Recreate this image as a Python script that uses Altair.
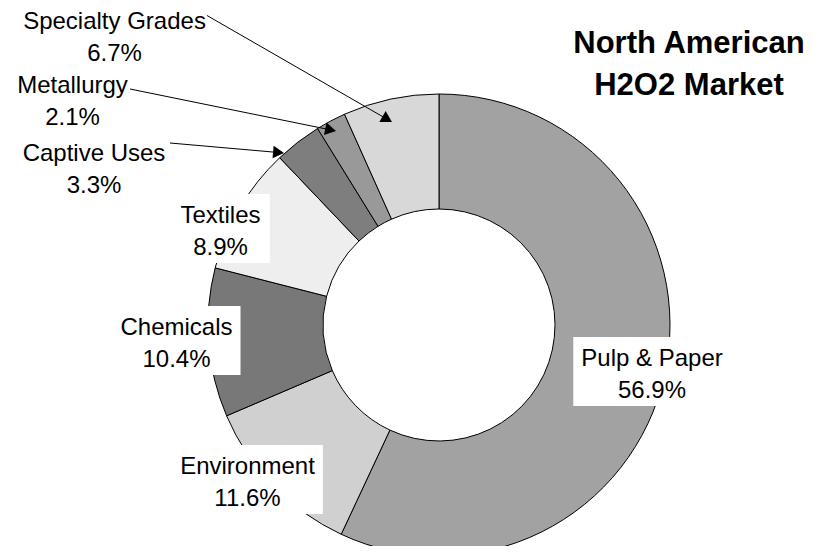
import altair as alt
import pandas as pd
import math

# ---- data ----
categories = ["Pulp & Paper", "Environment", "Chemicals", "Textiles",
              "Captive Uses", "Metallurgy", "Specialty Grades"]
shares = [56.9, 11.6, 10.4, 8.9, 3.3, 2.1, 6.7]
title_lines = ["North American", "H2O2 Market"]

# ---- styling / layout ----
fills = ["#a2a2a2", "#d0d0d0", "#787878", "#eeeeee", "#7e7e7e", "#999999", "#d8d8d8"]
CX, CY = 431, 317          # donut centre (chart px)
R_OUT, R_IN = 231, 116
FONT = "Liberation Sans"
FS, LH = 24, 32

# label anchor (centre x, first baseline y), white box or not
label_x = [644, 239.5, 168.5, 212.5, 86, 64.5, 106.5]
label_y = [358, 466, 327, 215, 153, 85, 20.5]
boxed = [True, True, True, True, False, False, False]
# leader lines: start -> arrow tip
leader = {
    "Captive Uses": ((162, 135), (276, 145)),
    "Metallurgy": ((122, 81), (328, 123)),
    "Specialty Grades": ((199, 7.5), (384, 114)),
}

# Arial / Liberation Sans advance widths (1/1000 em)
W = {"P": 667, "u": 556, "l": 222, "p": 556, " ": 278, "&": 667, "a": 556, "e": 556,
     "r": 333, "E": 667, "n": 556, "v": 500, "i": 222, "o": 556, "m": 833, "t": 278,
     "C": 722, "h": 556, "c": 500, "s": 500, "T": 611, "x": 500, ".": 278, "%": 889}
for d in "0123456789":
    W[d] = 556


def text_w(s):
    return sum(W.get(ch, 556) for ch in s) * FS / 1000.0


df = pd.DataFrame({"category": categories, "share": shares,
                   "order": list(range(len(categories)))})

donut = alt.Chart(df).mark_arc(
    outerRadius=R_OUT, innerRadius=R_IN, stroke="black", strokeWidth=1
).encode(
    theta=alt.Theta("share:Q", stack=True),
    order=alt.Order("order:Q"),
    color=alt.Color("category:N", scale=alt.Scale(domain=categories, range=fills), legend=None),
    x=alt.value(CX),
    y=alt.value(CY),
)

# labels
lab_rows = []
box_rows = []
for c, s, lx, ly, b in zip(categories, shares, label_x, label_y, boxed):
    l2 = f"{s:.1f}%"
    lab_rows.append({"x": lx, "y": ly, "t": f"{c}\n{l2}"})
    if b:
        w = max(text_w(c), text_w(l2)) + 16
        box_rows.append({"x": lx - w / 2, "x2": lx + w / 2, "y": ly - 29, "y2": ly + 40})

boxes = alt.Chart(pd.DataFrame(box_rows)).mark_rect(fill="white", stroke=None).encode(
    x=alt.X("x:Q", scale=None), x2="x2:Q",
    y=alt.Y("y:Q", scale=None), y2="y2:Q",
)

labels = alt.Chart(pd.DataFrame(lab_rows)).mark_text(
    font=FONT, fontSize=FS, lineHeight=LH, lineBreak="\n",
    align="center", baseline="alphabetic", color="black"
).encode(
    x=alt.X("x:Q", scale=None), y=alt.Y("y:Q", scale=None), text="t:N"
)

# leader lines with arrowheads
SIZE = 160
h = 0.433 * math.sqrt(SIZE)
rule_rows, head_rows = [], []
for name, ((x0, y0), (x1, y1)) in leader.items():
    dx, dy = x1 - x0, y1 - y0
    L = math.hypot(dx, dy)
    ux, uy = dx / L, dy / L
    cx, cy = x1 - ux * h, y1 - uy * h
    rule_rows.append({"x": x0, "y": y0, "x2": cx, "y2": cy})
    head_rows.append({"x": cx, "y": cy, "a": math.degrees(math.atan2(dx, -dy)) % 360})

rules = alt.Chart(pd.DataFrame(rule_rows)).mark_rule(color="black", strokeWidth=1).encode(
    x=alt.X("x:Q", scale=None), y=alt.Y("y:Q", scale=None), x2="x2:Q", y2="y2:Q"
)
heads = alt.Chart(pd.DataFrame(head_rows)).mark_point(
    shape="triangle-up", filled=True, color="black", opacity=1, size=SIZE
).encode(
    x=alt.X("x:Q", scale=None), y=alt.Y("y:Q", scale=None),
    angle=alt.Angle("a:Q", scale=None)
)

title = alt.Chart(pd.DataFrame({"t": ["\n".join(title_lines)]})).mark_text(
    font=FONT, fontSize=31, fontWeight="bold", lineHeight=42, lineBreak="\n",
    align="center", baseline="alphabetic", color="black"
).encode(x=alt.value(681), y=alt.value(44.5), text="t:N")

chart = alt.layer(donut, boxes, labels, rules, heads, title).properties(
    width=804, height=538, autosize="none", padding=0, background="white"
).configure_view(stroke=None)

chart.save("out.html", embed_options={"renderer": "svg", "actions": False})
